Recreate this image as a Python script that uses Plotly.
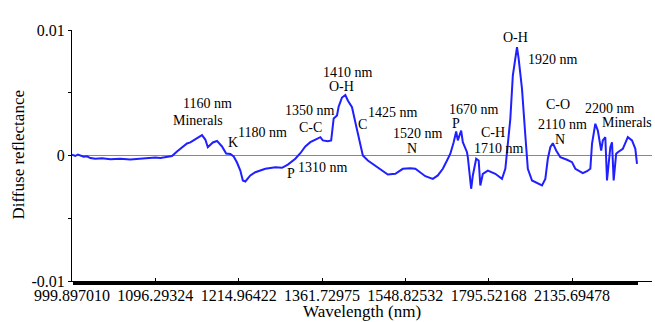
import plotly.graph_objects as go

# Band index (spectral sample number) and diffuse reflectance (x 1e-3)
band_index = [0, 4, 7, 10, 14, 18, 22, 28, 36, 46, 58, 70, 80, 88, 100, 106, 112, 120,
              126, 132, 138, 142, 146, 151, 156, 160, 163, 169, 174, 180, 185, 190, 194,
              198, 202, 205, 208, 214, 220, 232, 244, 252, 259, 268, 274, 280, 286, 294,
              298, 301, 307, 311, 314, 318, 320, 324, 328, 331, 336, 340, 344, 349, 355,
              364, 372, 379, 388, 397, 406, 412, 424, 433, 439, 445, 450, 454, 458, 461,
              463, 467, 469, 474, 475, 479, 481, 485, 488, 490, 493, 499, 508, 516, 520,
              522, 526, 529, 534, 536, 540, 544, 547, 552, 559, 564, 568, 571, 574, 577,
              581, 586, 594, 600, 604, 610, 613, 618, 622, 624, 628, 631, 635, 637, 640,
              642, 646, 648, 650, 653, 655, 661, 667, 672, 676, 678]
reflectance_milli = [0.06, -0.04, 0.08, -0.02, -0.10, -0.06, -0.20, -0.26, -0.22, -0.29,
                     -0.25, -0.32, -0.27, -0.28, -0.16, -0.20, -0.12, -0.04,
                     0.32, 0.64, 0.96, 1.04, 1.20, 1.43, 1.63, 1.27, 0.66, 1.04, 1.16,
                     0.72, 0.16, 0.12, -0.08, -0.56, -1.20, -1.99, -2.07, -1.59, -1.33,
                     -1.06, -0.93, -0.98, -0.72, -0.26, 0.18, 0.72, 1.06, 1.33, 1.46,
                     1.20, 1.14, 1.20, 2.95, 3.19, 3.90, 4.62, 4.82, 4.38, 3.85, 2.65,
                     1.46, 0.00, -0.40, -0.80, -1.20, -1.51, -1.46, -1.06, -1.01, -1.06,
                     -1.65, -1.86, -1.59, -1.06, -0.40, 0.14, 1.06, 1.91, 1.20, 1.99,
                     1.06, 0.26, -0.14, -2.65, -1.59, -0.26, -0.40, -2.39, -1.46, -1.20,
                     -1.46, -1.86, -1.06, 0.26, 2.92, 6.37, 8.63, 7.70, 5.31, 1.59,
                     -1.06, -1.99, -2.25, -2.39, -1.86, -0.26, 0.66, 0.98, 0.40, -0.14,
                     -0.34, -0.53, -1.06, -1.25, -1.41, -1.25, -1.06, 0.93, 2.53, 1.99,
                     0.40, 1.20, 1.46, -1.99, 0.66, 1.06, -1.99, 0.14, 0.26, 0.53, 1.46,
                     1.20, 0.53, -0.66]
reflectance = [v * 1e-3 for v in reflectance_milli]

# Tick labels (wavelength, nm) at every 100th band
tick_index = [0, 100, 200, 300, 400, 500, 600]
tick_labels = ["999.897010", "1096.29324", "1214.96422", "1361.72975",
               "1548.82532", "1795.52168", "2135.69478"]

# Band assignment labels: (text, band position, reflectance position)
label_text = ["1160 nm", "Minerals", "1180 nm", "K", "1350 nm", "C-C", "1410 nm", "O-H",
              "C", "1425 nm", "1520 nm", "N", "1310 nm", "P", "1670 nm", "P", "C-H",
              "1710 nm", "O-H", "1920 nm", "C-O", "2110 nm", "N", "2200 nm", "Minerals"]
label_x = [163, 151, 228, 193, 286, 286, 331, 323, 348, 385, 415, 408, 301, 263, 482,
           461, 505, 512, 532, 577, 583, 588, 586, 646, 666]
label_y = [0.00414, 0.00279, 0.00183, 0.00104, 0.00359, 0.00223, 0.00661, 0.0055,
           0.00247, 0.00343, 0.00175, 0.00056, -0.00096, -0.00143, 0.00367, 0.00255,
           0.00183, 0.00056, 0.0094, 0.00765, 0.00406, 0.00247, 0.00127, 0.00375,
           0.00263]

x_title = "Wavelength (nm)"
y_title = "Diffuse reflectance"

serif = "Liberation Serif, Times New Roman, serif"

fig = go.Figure()
fig.add_trace(go.Scatter(x=band_index, y=reflectance, mode="lines",
                         line=dict(color="#1f1fff", width=2), showlegend=False))

for t, xx, yy in zip(label_text, label_x, label_y):
    fig.add_annotation(x=xx, y=yy, text=t, showarrow=False, xanchor="center",
                       yanchor="middle", font=dict(family=serif, size=14, color="black"))

# axis titles
fig.add_annotation(xref="paper", yref="paper", x=0.5, y=0, yanchor="bottom", yshift=-41,
                   borderpad=0, text=x_title, showarrow=False,
                   font=dict(family=serif, size=17, color="black"))
fig.add_annotation(xref="paper", yref="paper", x=0, y=0.5, xanchor="center", xshift=-54,
                   textangle=-90, text=y_title, showarrow=False,
                   font=dict(family=serif, size=17, color="black"))

fig.update_layout(
    width=655, height=322,
    margin=dict(l=72, r=3, t=30, b=41),
    paper_bgcolor="white", plot_bgcolor="white",
    font=dict(family=serif, size=16, color="black"),
    xaxis=dict(
        range=[0, 696], tickmode="array", tickvals=tick_index, ticktext=tick_labels,
        showgrid=False, zeroline=False, showline=True, linecolor="black", linewidth=1,
        ticks="inside", ticklen=3, tickcolor="black", automargin=False,
        minor=dict(tickmode="array", tickvals=list(range(0, 679)), ticks="outside",
                   ticklen=3, tickcolor="black", tickwidth=1),
        tickfont=dict(size=16),
    ),
    yaxis=dict(
        range=[-0.01, 0.01], tickmode="array", tickvals=[-0.01, 0, 0.01],
        ticktext=["-0.01", "0", "0.01"], showgrid=False, automargin=False,
        zeroline=True, zerolinecolor="#888888", zerolinewidth=1,
        showline=True, linecolor="black", linewidth=1,
        ticks="outside", ticklen=3, tickcolor="black",
        minor=dict(tickmode="array", tickvals=[-0.005, 0.005], ticks="outside",
                   ticklen=3, tickcolor="black"),
        tickfont=dict(size=16),
    ),
)

fig.write_html("out.html", config={"displayModeBar": False},
               post_script="document.body.style.margin='0';document.body.style.padding='0';")
